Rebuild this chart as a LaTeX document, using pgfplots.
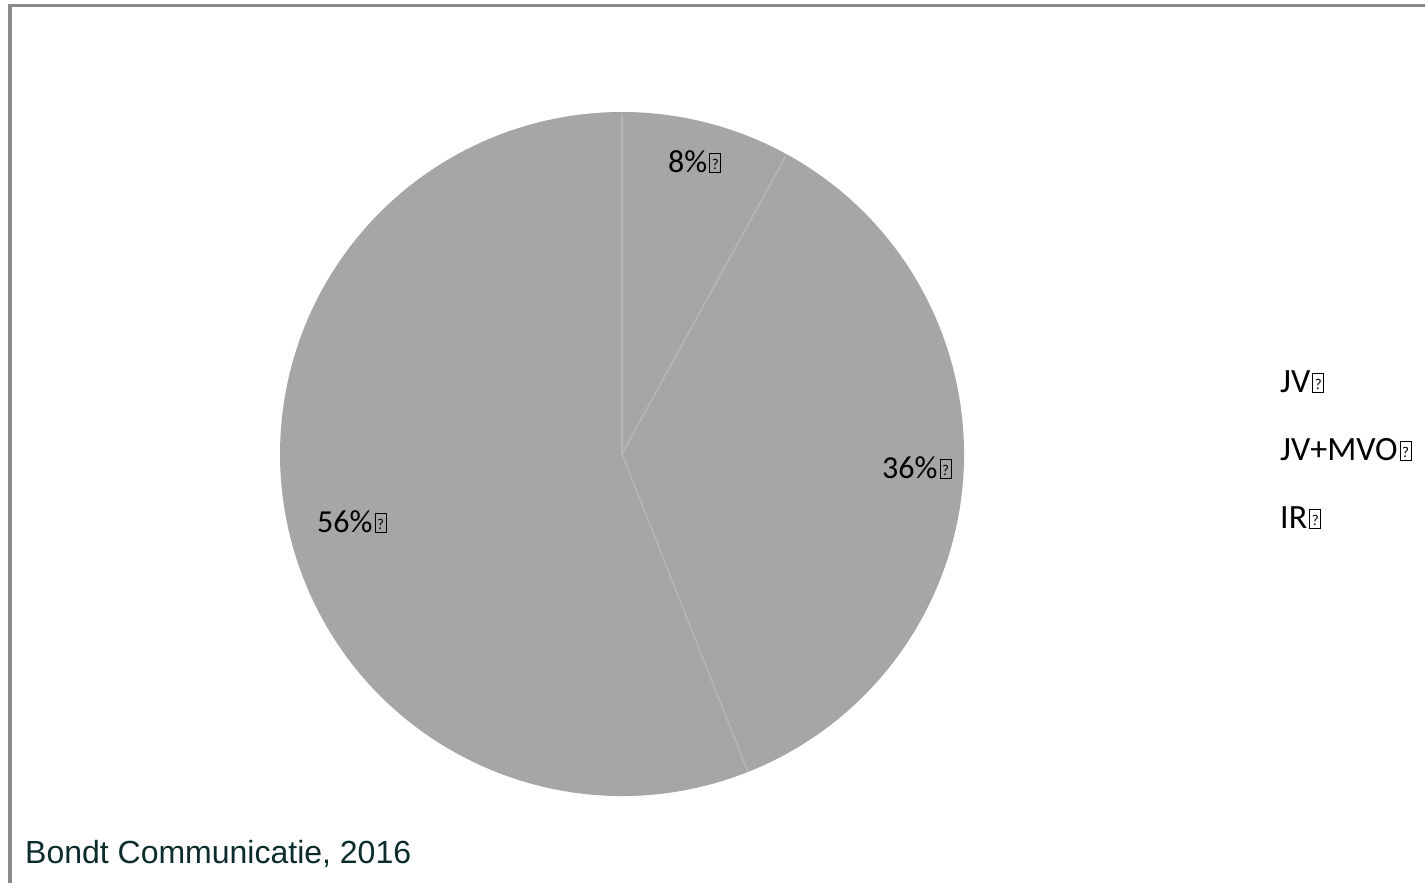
\documentclass[border=0pt]{standalone}
\usepackage{pgfplots}
\pgfplotsset{compat=1.18}
\usepackage{pgfplotstable}
\usepackage{fontspec}
\setmainfont{Carlito}
\newfontfamily\arialfont{Liberation Sans}
\definecolor{piegray}{HTML}{A6A6A6}
\definecolor{sepgray}{HTML}{B6B6B6}
\definecolor{framegray}{HTML}{8A8A8A}
\definecolor{srcteal}{HTML}{0C2C2C}
\newcommand\qbox{\kern2bp{\setlength\fboxsep{0pt}\setlength\fboxrule{1bp}\fbox{\makebox[10bp]{\rule{0pt}{18bp}\raisebox{3bp}{\fontsize{15bp}{15bp}\selectfont ?}}}}}

\pgfplotstableread{
label value
JV 8
JV+MVO 36
IR 56
}\piedata

\begin{document}
\begin{tikzpicture}
\pgfplotstablegetelem{0}{value}\of\piedata \global\let\va\pgfplotsretval
\pgfplotstablegetelem{1}{value}\of\piedata \global\let\vb\pgfplotsretval
\pgfplotstablegetelem{2}{value}\of\piedata \global\let\vc\pgfplotsretval
\pgfmathsetmacro\aA{90}
\pgfmathsetmacro\aB{90-3.6*\va}
\pgfmathsetmacro\aC{\aB-3.6*\vb}
\pgfmathsetmacro\aD{\aC-3.6*\vc}
\begin{axis}[at={(0,0)}, anchor=south west, scale only axis,
  width=1425bp, height=883bp, xmin=0, xmax=1425, ymin=0, ymax=883,
  y dir=reverse, hide axis, clip=false]
% slices
\fill[piegray] (axis cs:622,454) -- ++(\aA:342bp) arc[start angle=\aA, end angle=\aB, radius=342bp] -- cycle;
\fill[piegray] (axis cs:622,454) -- ++(\aB:342bp) arc[start angle=\aB, end angle=\aC, radius=342bp] -- cycle;
\fill[piegray] (axis cs:622,454) -- ++(\aC:342bp) arc[start angle=\aC, end angle=\aD, radius=342bp] -- cycle;
% separators
\draw[sepgray, line width=1.5bp] (axis cs:622,454) -- ++(\aA:340bp);
\draw[sepgray, line width=1.5bp] (axis cs:622,454) -- ++(\aB:340bp);
\draw[sepgray, line width=1.5bp] (axis cs:622,454) -- ++(\aC:340bp);
% data labels
\node[anchor=base west, inner sep=0, font=\fontsize{32bp}{38bp}\selectfont] at (axis cs:668,172) {8\%\qbox};
\node[anchor=base west, inner sep=0, font=\fontsize{32bp}{38bp}\selectfont] at (axis cs:882,478) {36\%\qbox};
\node[anchor=base west, inner sep=0, font=\fontsize{32bp}{38bp}\selectfont] at (axis cs:317,532) {56\%\qbox};
% legend (no visible markers)
\node[anchor=base west, inner sep=0, font=\fontsize{34bp}{40bp}\selectfont] at (axis cs:1280,392) {JV\qbox};
\node[anchor=base west, inner sep=0, font=\fontsize{34bp}{40bp}\selectfont] at (axis cs:1280,460) {JV+MVO\qbox};
\node[anchor=base west, inner sep=0, font=\fontsize{34bp}{40bp}\selectfont] at (axis cs:1280,528) {IR\qbox};
% source
\node[anchor=base west, inner sep=0, text=srcteal, font=\arialfont\fontsize{32bp}{38bp}\selectfont] at (axis cs:25,863) {Bondt Communicatie, 2016};
% frame
\draw[framegray, line width=3.5bp] (axis cs:10,890) -- (axis cs:10,5.3) -- (axis cs:1435,5.3);
\end{axis}
\pgfresetboundingbox
\useasboundingbox (0,0) rectangle (1425bp,883bp);
\end{tikzpicture}
\end{document}
